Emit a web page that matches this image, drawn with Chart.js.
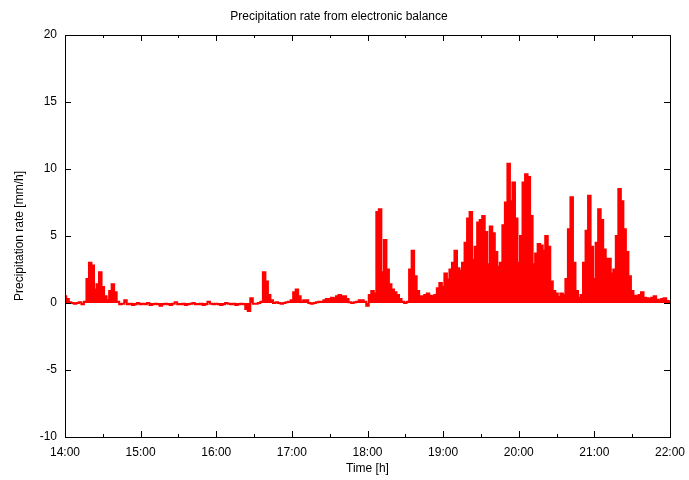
<!DOCTYPE html>
<html>
<head>
<meta charset="utf-8">
<script src="https://cdn.jsdelivr.net/npm/chart.js@4.4.0/dist/chart.umd.min.js"></script>
<style>
  html, body { margin: 0; padding: 0; background: #fff; }
</style>
</head>
<body>
<canvas id="chart" width="689" height="480"></canvas>
<script>
// Precipitation rate [mm/h], one sample every 2 minutes.
// One array per hour, starting at the full hour.
const START_HOUR = 14;
const STEP_MIN = 2;

const rate14 = [
  0.5, 0.3, 0.05, 0, -0.05, 0, 0.05, -0.1, 0.1, 1.8,
  3.0, 2.8, 1.0, 1.4, 2.3, 1.2, 0.5, 0.2, 0.9, 1.4,
  0.8, 0.1, -0.1, -0.05, 0.2, -0.1, -0.05, -0.15, -0.1, 0,
];
const rate15 = [
  -0.1, -0.05, -0.1, 0, -0.15, -0.1, -0.05, -0.1, -0.2, -0.1,
  -0.05, -0.1, -0.15, -0.05, 0.05, -0.1, -0.1, -0.05, -0.15, -0.1,
  -0.05, 0, -0.1, -0.1, -0.05, -0.15, -0.1, 0.1, -0.05, -0.1,
];
const rate16 = [
  -0.05, -0.1, -0.15, -0.1, 0, -0.05, -0.1, -0.05, -0.15, -0.1,
  -0.05, -0.1, -0.45, -0.6, 0.35, -0.05, -0.05, 0, 0.1, 2.3,
  1.6, 0.6, 0.2, 0, 0.05, 0, -0.05, 0, 0.05, 0.1,
];
const rate17 = [
  0.2, 0.8, 1.0, 0.5, 0.1, 0.2, 0.2, 0, -0.05, 0,
  0.05, 0.1, 0.1, 0.2, 0.3, 0.3, 0.4, 0.35, 0.5, 0.6,
  0.5, 0.5, 0.3, 0.05, 0, 0.05, 0.1, 0.2, 0.2, 0.1,
];
const rate18 = [
  -0.2, 0.6, 0.9, 0.7, 6.8, 7.0, 2.3, 4.7, 2.5, 1.4,
  1.0, 0.8, 0.6, 0.3, 0.1, 0, 0.1, 2.5, 3.9, 2.0,
  0.9, 0.5, 0.5, 0.6, 0.7, 0.55, 0.5, 0.6, 1.1, 1.5,
];
const rate19 = [
  1.2, 2.2, 1.75, 2.5, 3.0, 3.9, 2.6, 2.4, 3.0, 4.5,
  6.3, 6.8, 3.2, 4.2, 6.0, 6.2, 6.5, 5.3, 2.9, 5.7,
  5.2, 3.8, 2.7, 3.0, 5.8, 7.5, 10.4, 7.6, 9.0, 6.3,
];
const rate20 = [
  3.0, 5.0, 9.0, 9.6, 9.4, 6.5, 2.9, 3.7, 4.4, 4.3,
  3.9, 5.0, 4.2, 1.6, 0.9, 0.7, 0.45, 0.7, 0.6, 1.8,
  5.5, 7.9, 3.0, 0.9, 0.4, 0.6, 3.0, 5.4, 8.0, 4.2,
];
const rate21 = [ // last value is 22:00
  1.8, 4.5, 7.0, 6.2, 4.0, 3.3, 3.3, 2.2, 2.5, 5.0,
  8.5, 7.6, 5.5, 3.8, 2.0, 0.9, 0.55, 0.5, 0.6, 0.8,
  0.4, 0.35, 0.3, 0.4, 0.5, 0.25, 0.2, 0.3, 0.35, 0.15,
  0.1,
];

const X_MIN = 14, X_MAX = 22;
const Y_MIN = -10, Y_MAX = 20, Y_STEP = 5;

const FONT = { family: "'Liberation Sans', Arial, sans-serif", size: 12 };
const INK = '#000';

const allRates = [rate14, rate15, rate16, rate17, rate18, rate19, rate20, rate21].flat();
const points = allRates.map((v, i) => ({ x: START_HOUR + (i * STEP_MIN) / 60, y: v }));

function fmtHour(v) {
  return `${String(v).padStart(2, '0')}:00`;
}

// gnuplot-style frame with inward ticks on all four sides (minor ticks on x at half hours)
const frameTicks = {
  id: 'frameTicks',
  afterDatasetsDraw(chart) {
    const { ctx, chartArea: a, scales: { x, y } } = chart;
    ctx.save();
    ctx.strokeStyle = INK;
    ctx.lineWidth = 1;
    ctx.beginPath();
    x.ticks.forEach((t, i) => {
      const px = Math.round(x.getPixelForValue(t.value)) + 0.5;
      ctx.moveTo(px, a.bottom); ctx.lineTo(px, a.bottom - 6);
      ctx.moveTo(px, a.top); ctx.lineTo(px, a.top + 6);
      if (i < x.ticks.length - 1) {
        const mx = Math.round(x.getPixelForValue((t.value + x.ticks[i + 1].value) / 2)) + 0.5;
        ctx.moveTo(mx, a.bottom); ctx.lineTo(mx, a.bottom - 3);
        ctx.moveTo(mx, a.top); ctx.lineTo(mx, a.top + 3);
      }
    });
    y.ticks.forEach((t) => {
      const py = Math.round(y.getPixelForValue(t.value)) + 0.5;
      ctx.moveTo(a.left, py); ctx.lineTo(a.left + 6, py);
      ctx.moveTo(a.right, py); ctx.lineTo(a.right - 6, py);
    });
    ctx.stroke();
    ctx.strokeRect(Math.round(a.left) + 0.5, Math.round(a.top) + 0.5, Math.round(a.width), Math.round(a.height));
    ctx.restore();
  },
};

new Chart(document.getElementById('chart'), {
  type: 'line',
  data: {
    datasets: [{
      data: points,
      borderColor: '#ff0000',
      backgroundColor: '#ff0000',
      borderWidth: 2,
      fill: 'origin',
      stepped: 'middle',
      pointRadius: 0,
    }],
  },
  options: {
    responsive: false,
    animation: false,
    layout: { padding: { left: 8, right: 19, top: 0, bottom: 0 } },
    plugins: {
      legend: { display: false },
      tooltip: { enabled: false },
      title: {
        display: true,
        text: 'Precipitation rate from electronic balance',
        color: INK,
        font: { ...FONT, weight: 'normal' },
        padding: { top: 9, bottom: 11.6 },
      },
    },
    scales: {
      x: {
        type: 'linear',
        min: X_MIN,
        max: X_MAX,
        grid: { display: false, drawTicks: false },
        border: { display: false },
        ticks: { stepSize: 1, color: INK, font: FONT, padding: 8, maxRotation: 0, callback: fmtHour },
        title: { display: true, text: 'Time [h]', color: INK, font: FONT, padding: { top: 4, bottom: 4 } },
        afterFit: (s) => { s.height = 43; s.paddingLeft = 0; s.paddingRight = 0; },
      },
      y: {
        min: Y_MIN,
        max: Y_MAX,
        grid: { display: false, drawTicks: false },
        border: { display: false },
        ticks: { stepSize: Y_STEP, color: INK, font: FONT, padding: 8 },
        title: { display: true, text: 'Precipitation rate [mm/h]', color: INK, font: FONT, padding: { top: 4, bottom: 4 } },
        afterFit: (s) => { s.width = 57; },
      },
    },
  },
  plugins: [frameTicks],
});
</script>
</body>
</html>
